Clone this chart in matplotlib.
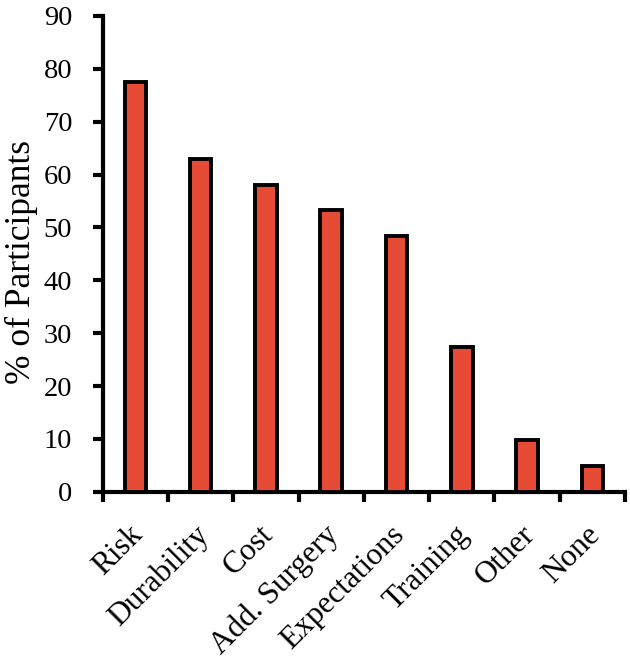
import matplotlib
matplotlib.use("Agg")
import matplotlib.pyplot as plt
import matplotlib.transforms as mtransforms
import numpy as np

categories = ["Risk", "Durability", "Cost", "Add. Surgery", "Expectations", "Training", "Other", "None"]
values = [77.4, 62.9, 58.1, 53.2, 48.4, 27.4, 9.7, 4.8]
yticks = [0, 10, 20, 30, 40, 50, 60, 70, 80, 90]

plt.rcParams['font.family'] = ['Liberation Serif', 'DejaVu Serif']

fig = plt.figure(figsize=(6.3, 6.61), dpi=100)
ax = fig.add_axes([0.163, 0.256, 0.829, 0.72])

x = np.arange(len(categories))
ax.bar(x, values, width=0.33, color='#E64B35', edgecolor='black', linewidth=2.8, zorder=3)

ax.set_xlim(-0.5, len(categories) - 0.5)
ax.set_ylim(0, 90)
ax.set_yticks(yticks)
ax.set_yticklabels([str(v) for v in yticks], fontsize=20.5)
ax.set_xticks(np.arange(len(categories) + 1) - 0.5)
ax.set_xticklabels([])
ax.set_xticks(x, minor=True)
ax.set_xticklabels(categories, minor=True, rotation=45, ha='right', rotation_mode='anchor', fontsize=22.5)
ax.tick_params(axis='x', which='minor', length=0, pad=20.5)
ax.tick_params(axis='both', which='major', direction='out', length=7, width=3, colors='black')
ax.tick_params(axis='y', pad=15)

offset = mtransforms.ScaledTranslation(-5 / 72, 0, fig.dpi_scale_trans)
for lab in ax.get_xticklabels(minor=True):
    lab.set_transform(lab.get_transform() + offset)

for s in ['top', 'right']:
    ax.spines[s].set_visible(False)
for s in ['left', 'bottom']:
    ax.spines[s].set_linewidth(3)

ax.set_ylabel('% of Participants', fontsize=25.5)
ax.yaxis.set_label_coords(-0.123, 0.483)

fig.savefig('out.png', dpi=100)
